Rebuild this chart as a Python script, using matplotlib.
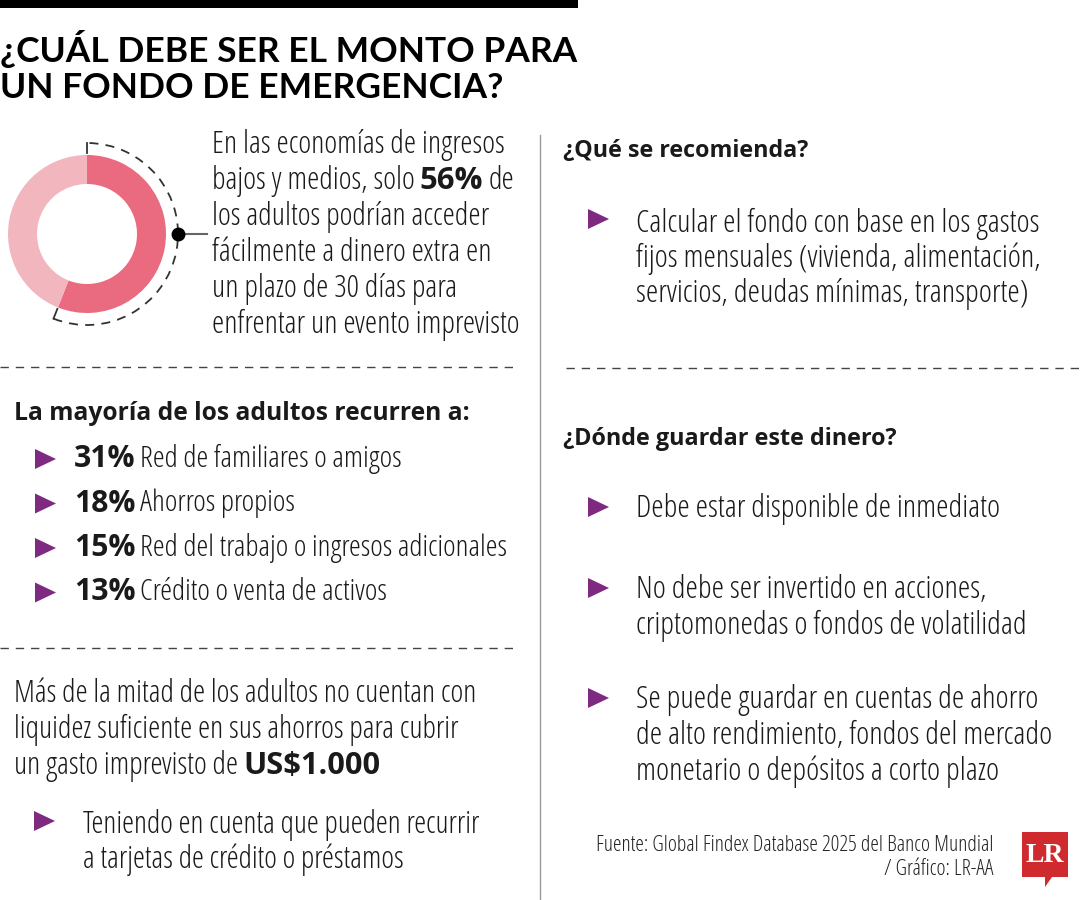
import matplotlib
matplotlib.use("Agg")
import numpy as np
import matplotlib.pyplot as plt
from matplotlib import font_manager
from matplotlib.patches import Arc, Polygon, Rectangle

# --- data -------------------------------------------------------------
title_lines = ["¿CUÁL DEBE SER EL MONTO PARA", "UN FONDO DE EMERGENCIA?"]
donut_values = [56, 44]
donut_colors = ["#EA6A80", "#F2B6BF"]
intro_lines = [
    [("En las economías de ingresos", False)],
    [("bajos y medios, solo", False), ("56%", True), ("de", False)],
    [("los adultos podrían acceder", False)],
    [("fácilmente a dinero extra en", False)],
    [("un plazo de 30 días para", False)],
    [("enfrentar un evento imprevisto", False)],
]
recurso_title = "La mayoría de los adultos recurren a:"
recurso_pct = ["31%", "18%", "15%", "13%"]
recurso_lbl = ["Red de familiares o amigos", "Ahorros propios",
               "Red del trabajo o ingresos adicionales", "Crédito o venta de activos"]
liquidez_lines = [
    [("Más de la mitad de los adultos no cuentan con", False)],
    [("liquidez suficiente en sus ahorros para cubrir", False)],
    [("un gasto imprevisto de", False), ("US$1.000", True)],
]
liquidez_bullet = ["Teniendo en cuenta que pueden recurrir", "a tarjetas de crédito o préstamos"]
recomienda_title = "¿Qué se recomienda?"
recomienda_bullet = ["Calcular el fondo con base en los gastos",
                     "fijos mensuales (vivienda, alimentación,",
                     "servicios, deudas mínimas, transporte)"]
donde_title = "¿Dónde guardar este dinero?"
donde_bullets = [
    ["Debe estar disponible de inmediato"],
    ["No debe ser invertido en acciones,", "criptomonedas o fondos de volatilidad"],
    ["Se puede guardar en cuentas de ahorro", "de alto rendimiento, fondos del mercado",
     "monetario o depósitos a corto plazo"],
]
fuente_lines = ["Fuente: Global Findex Database 2025 del Banco Mundial", "/ Gráfico: LR-AA"]

PURPLE = "#7D2A80"
TXT = "#1a1a1a"

# pick the narrowest sans we can find
entries = {(f.name, f.stretch) for f in font_manager.fontManager.ttflist}
cond = ("condensed", "semi-condensed", "extra-condensed")
NARROW = {"family": "DejaVu Sans", "stretch": "normal"}
if any(n == "Liberation Sans Narrow" for n, s in entries):
    NARROW = {"family": "Liberation Sans Narrow", "stretch": "normal"}
else:
    for fam in ["Open Sans", "Noto Sans", "Roboto", "Lato", "DejaVu Sans"]:
        hit = [s for n, s in entries if n == fam and s in cond]
        if hit:
            NARROW = {"family": fam, "stretch": hit[0]}
            break
HEAD = "Lato"
CAP = 25

fig = plt.figure(figsize=(10.8, 9), dpi=100)
ax = fig.add_axes([0, 0, 1, 1])
ax.set_xlim(0, 1080)
ax.set_ylim(900, 0)
ax.axis("off")
renderer = fig.canvas.get_renderer()


def width(parts, size, family=None, gap=5):
    tot = 0
    for txt, bold in parts:
        kw = dict(family=family) if family else NARROW
        t = ax.text(0, 0, txt, fontsize=size, fontweight="bold" if bold else "normal", **kw)
        tot += t.get_window_extent(renderer=renderer).width + gap
        t.remove()
    return tot - gap


def fit(parts, target, family=None, cap=CAP):
    if isinstance(parts, str):
        parts = [(parts, False)]
    return min(20 * target / width(parts, 20, family), cap)


def runs(x, y, parts, size, gap=5):
    for txt, bold in parts:
        t = ax.text(x, y, txt, fontsize=size, color=TXT, va="baseline",
                    fontweight="bold" if bold else "normal", **NARROW)
        x += t.get_window_extent(renderer=renderer).width + gap


def tri(x, y, w=21, h=20):
    ax.add_patch(Polygon([[x, y - h / 2], [x + w, y], [x, y + h / 2]],
                         closed=True, color=PURPLE, lw=0))


# top bar + title
ax.add_patch(Rectangle((0, 0), 578, 8, color="black", lw=0))
ts = fit([(title_lines[0], True)], 577, family=HEAD, cap=30)
for i, line in enumerate(title_lines):
    ax.text(0, 62 + i * 36, line, fontsize=ts, fontweight="bold", family=HEAD,
            color="black", va="baseline")

# donut
cx, cy, R = 87, 234, 79
pax = fig.add_axes([(cx - 100) / 1080, (900 - cy - 100) / 900, 200 / 1080, 200 / 900])
pax.pie(donut_values, colors=donut_colors, startangle=90, counterclock=False,
        radius=1, wedgeprops=dict(width=29 / R, linewidth=0))
lim = 100 / R
pax.set_xlim(-lim, lim)
pax.set_ylim(-lim, lim)
pax.set_aspect("equal")
pax.axis("off")
ra = 91 / R
end_ang = 90 - 360 * donut_values[0] / sum(donut_values)
pax.add_patch(Arc((0, 0), 2 * ra, 2 * ra, theta1=end_ang, theta2=90,
                  color="#333333", lw=1.3, linestyle=(0, (5, 4))))
for a in (90, end_ang):
    c, s = np.cos(np.radians(a)), np.sin(np.radians(a))
    pax.plot([ra * c, 1.02 * c], [ra * s, 1.02 * s], color="#333333", lw=1.3)
pax.plot([ra, 120 / R], [0, 0], color="#666666", lw=1.5, clip_on=False)
pax.plot([ra], [0], "o", color="black", ms=9, clip_on=False)

s_intro = fit("enfrentar un evento imprevisto", 307)
for i, parts in enumerate(intro_lines):
    runs(212, 153 + i * 36, parts, s_intro)

# dividers
ax.plot([540, 540], [135, 900], color="#9a9a9a", lw=1)
for y, x0, x1 in [(367, 0, 515), (648, 0, 515), (368, 566, 1080)]:
    ax.plot([x0, x1], [y, y], color="#444444", lw=1, linestyle=(0, (6, 5)))

# left: recursos
runs(14, 420, [(recurso_title, True)], fit([(recurso_title, True)], 456))
s_list = fit([(recurso_pct[2], True), (recurso_lbl[2], False)], 435)
for i, (p, l) in enumerate(zip(recurso_pct, recurso_lbl)):
    y = 467 + i * 44.5
    tri(35, y - 8)
    runs(74, y, [(p, True), (l, False)], s_list)

s_liq = fit(liquidez_lines[0], 463)
for i, parts in enumerate(liquidez_lines):
    runs(14, 702 + i * 36, parts, s_liq)
tri(34, 821)
s_b = fit(liquidez_bullet[0], 398)
for i, line in enumerate(liquidez_bullet):
    runs(83, 833 + i * 35, [(line, False)], s_b)

# right column
runs(563, 157, [(recomienda_title, True)], fit([(recomienda_title, True)], 245))
s_rec = fit(recomienda_bullet[0], 403)
tri(588, 219)
for i, line in enumerate(recomienda_bullet):
    runs(636, 232 + i * 35, [(line, False)], s_rec)

runs(563, 445, [(donde_title, True)], fit([(donde_title, True)], 334))
s_don = fit(donde_bullets[2][1], 415)
starts = [517, 598, 708]
for st, lines in zip(starts, donde_bullets):
    tri(588, st - 10)
    for i, line in enumerate(lines):
        runs(636, st + i * 36, [(line, False)], s_don)

# footer
s_f = fit(fuente_lines[0], 395, cap=17)
for i, line in enumerate(fuente_lines):
    ax.text(993, 851 + i * 24, line, fontsize=s_f, color="#222222",
            ha="right", va="baseline", **NARROW)
ax.add_patch(Polygon([[1022, 832], [1068, 832], [1068, 877], [1052, 877],
                      [1045, 887], [1045, 877], [1022, 877]], closed=True,
                     color="#CF2A2E", lw=0))
ax.text(1045, 856, "LR", fontsize=20, fontweight="bold", family="Liberation Serif",
        color="white", ha="center", va="center")

fig.savefig("out.png", dpi=100, facecolor="white")
